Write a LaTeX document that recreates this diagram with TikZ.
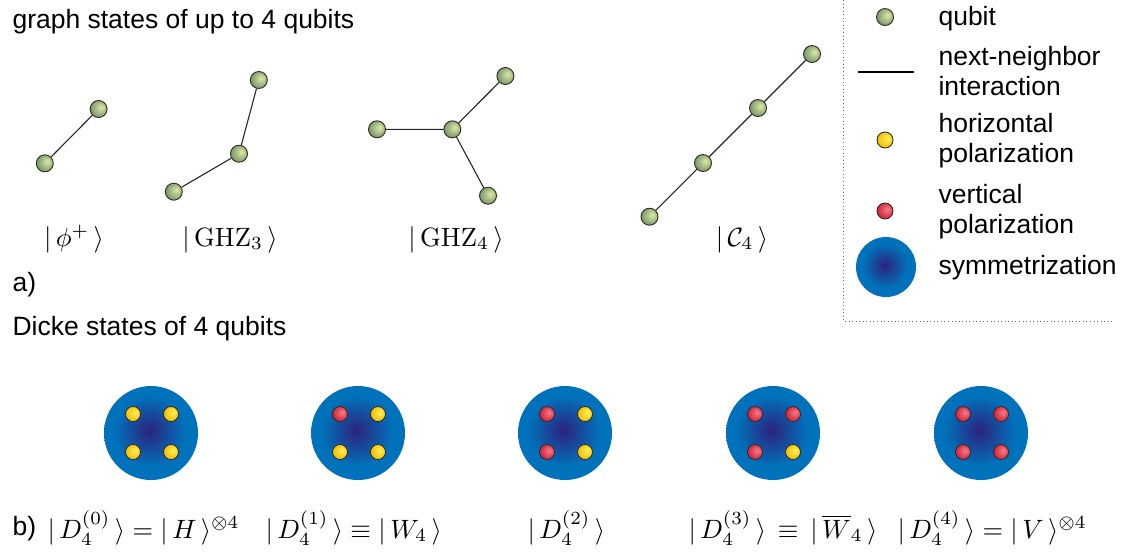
\documentclass[tikz,border=0pt]{standalone}
\usepackage[no-math]{fontspec}
\setmainfont{Liberation Sans}
\def\pxu{0.3774pt}
\definecolor{qlight}{RGB}{222,234,165}
\definecolor{qdark}{RGB}{112,146,106}
\definecolor{ylight}{RGB}{255,238,90}
\definecolor{ydark}{RGB}{238,188,0}
\definecolor{rlight}{RGB}{248,125,135}
\definecolor{rdark}{RGB}{205,28,52}
\definecolor{symin}{RGB}{45,35,125}
\definecolor{symout}{RGB}{0,114,187}
\definecolor{dotborder}{RGB}{50,42,30}
\pgfdeclareradialshading{qball}{\pgfpoint{8bp}{6bp}}{color(0bp)=(qlight); color(30bp)=(qdark); color(50bp)=(qdark)}
\pgfdeclareradialshading{yball}{\pgfpoint{8bp}{6bp}}{color(0bp)=(ylight); color(30bp)=(ydark); color(50bp)=(ydark)}
\pgfdeclareradialshading{rball}{\pgfpoint{8bp}{6bp}}{color(0bp)=(rlight); color(30bp)=(rdark); color(50bp)=(rdark)}
\pgfdeclareradialshading{symshade}{\pgfpoint{-1bp}{1.5bp}}{color(0bp)=(symin); color(19bp)=(symout); color(50bp)=(symout)}
\tikzset{
  ball/.style={circle, inner sep=0pt, draw=dotborder, line width={0.9*\pxu}, shade},
  qubit/.style={ball, shading=qball, minimum size={17*\pxu}},
  hdot/.style={ball, shading=yball, minimum size={16*\pxu}},
  vdot/.style={ball, shading=rball, minimum size={16*\pxu}},
  sdot/.style={ball, line width={0.8*\pxu}, minimum size={15*\pxu}},
  hsd/.style={sdot, shading=yball},
  vsd/.style={sdot, shading=rball},
  sym/.style={circle, inner sep=0pt, shade, shading=symshade},
  edge/.style={line width={1.1*\pxu}, draw=black!85},
  txt/.style={anchor=base west, inner sep=0pt, font=\fontsize{10}{11.3}\selectfont},
  mlab/.style={anchor=base, inner sep=0pt, font=\fontsize{10}{11.3}\selectfont},
  legline/.style={densely dotted, draw=black!60, line width={0.9*\pxu}}
}
\begin{document}
\begin{tikzpicture}[x=\pxu,y=-\pxu]
\useasboundingbox (0,0) rectangle (1123,554);
% titles
\node[txt] (t1) at (12,28) {graph states of up to 4 qubits};
\node[txt] (ta) at (12,291) {a)};
\node[txt] (t2) at (12,335) {Dicke states of 4 qubits};
\node[txt] (tb) at (12,535) {b)};
% phi+
\node[qubit] (p1) at (44.8,163.3) {};
\node[qubit] (p2) at (98.6,109) {};
\draw[edge] (p1) -- (p2);
\node[mlab] (lp) at (74,246) {$|\,\phi^+\,\rangle$};
% GHZ3
\node[qubit] (g1) at (173.8,191.7) {};
\node[qubit] (g2) at (239,153.7) {};
\node[qubit] (g3) at (258.8,80) {};
\draw[edge] (g1) -- (g2) -- (g3);
\node[mlab] (lg3) at (230,246) {$|\,\mathrm{GHZ}_3\,\rangle$};
% GHZ4
\node[qubit] (h1) at (377,129.3) {};
\node[qubit] (h2) at (452.3,129.3) {};
\node[qubit] (h3) at (505.4,76) {};
\node[qubit] (h4) at (488,195.7) {};
\draw[edge] (h1) -- (h2) -- (h3);
\draw[edge] (h2) -- (h4);
\node[mlab] (lg4) at (456,246) {$|\,\mathrm{GHZ}_4\,\rangle$};
% C4
\node[qubit] (c1) at (649.5,216.7) {};
\node[qubit] (c2) at (703,163) {};
\node[qubit] (c3) at (758,108) {};
\node[qubit] (c4) at (812,54) {};
\draw[edge] (c1) -- (c2) -- (c3) -- (c4);
\node[mlab] (lc) at (742,246) {$|\,\mathcal{C}_4\,\rangle$};
% legend
\coordinate (lt) at (843,0);
\coordinate (lc1) at (843,321);
\coordinate (lr) at (1112,321);
\draw[legline] (lt) -- (lc1) -- (lr);
\node[qubit] (lq) at (885,17) {};
\node[txt] at (938,25) {qubit};
\coordinate (ll1) at (858,72);
\coordinate (ll2) at (914,72);
\draw[line width={1.2*\pxu}] (ll1) -- (ll2);
\node[txt] at (938,65) {next-neighbor};
\node[txt] at (938,95) {interaction};
\node[hdot] (ly) at (885,140) {};
\node[txt] at (938,132) {horizontal};
\node[txt] at (938,162) {polarization};
\node[vdot] (lv) at (885,211) {};
\node[txt] at (938,203) {vertical};
\node[txt] at (938,233) {polarization};
\node[sym, minimum size={60*\pxu}] (ls) at (886,267) {};
\node[txt] at (938,274) {symmetrization};
% Dicke states
\node[sym, minimum size={94*\pxu}] (s1) at (151,433) {};
\node[hsd] at (133,414) {};
\node[hsd] at (171,414) {};
\node[hsd] at (133,452) {};
\node[hsd] at (171,452) {};
\node[sym, minimum size={94*\pxu}] (s2) at (358,433) {};
\node[vsd] at (340,414) {};
\node[hsd] at (378,414) {};
\node[hsd] at (340,452) {};
\node[hsd] at (378,452) {};
\node[sym, minimum size={94*\pxu}] (s3) at (565,433) {};
\node[vsd] at (547,414) {};
\node[hsd] at (585,414) {};
\node[vsd] at (547,452) {};
\node[hsd] at (585,452) {};
\node[sym, minimum size={94*\pxu}] (s4) at (773,433) {};
\node[vsd] at (755,414) {};
\node[vsd] at (793,414) {};
\node[vsd] at (755,452) {};
\node[hsd] at (793,452) {};
\node[sym, minimum size={94*\pxu}] (s5) at (981,433) {};
\node[vsd] at (963,414) {};
\node[vsd] at (1001,414) {};
\node[vsd] at (963,452) {};
\node[vsd] at (1001,452) {};
% Dicke labels
\node[txt] (d0) at (47,538) {$|\,D_4^{(0)}\,\rangle=|\,H\,\rangle^{\otimes 4}$};
\node[txt] (d1) at (265,538) {$|\,D_4^{(1)}\,\rangle\equiv|\,W_4\,\rangle$};
\node[txt] (d2) at (527,538) {$|\,D_4^{(2)}\,\rangle$};
\node[txt] (d3) at (688,538) {$|\,D_4^{(3)}\,\rangle\,\equiv\,|\,\overline{W}_4\,\rangle$};
\node[txt] (d4) at (897,538) {$|\,D_4^{(4)}\,\rangle=|\,V\,\rangle^{\otimes 4}$};
\end{tikzpicture}
\end{document}
